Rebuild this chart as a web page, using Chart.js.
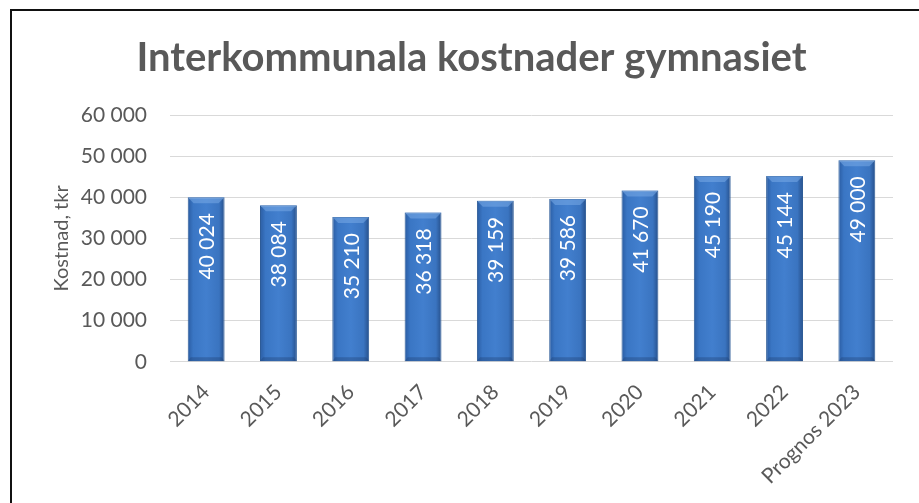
<!DOCTYPE html>
<html>
<head>
<meta charset="utf-8">
<script src="https://cdn.jsdelivr.net/npm/chart.js@4/dist/chart.umd.min.js"></script>
<style>
    html, body { margin: 0; padding: 0; background: #fff; }
    #ram {
        position: absolute; left: 10px; top: 9px;
        width: 907px; height: 492px;
        border-left: 2px solid #111; border-top: 2px solid #111;
    }
    canvas { display: block; }
</style>
</head>
<body>
<div id="ram"><canvas id="chartKostnad" width="907" height="492"></canvas></div>
<script>
const kategorier = ["2014", "2015", "2016", "2017", "2018", "2019", "2020", "2021", "2022", "Prognos 2023"];
const kostnader = [40024, 38084, 35210, 36318, 39159, 39586, 41670, 45190, 45144, 49000];
const yTicks = [0, 10000, 20000, 30000, 40000, 50000, 60000];

const FONT = "Lato, 'Liberation Sans', sans-serif";
const GRA = "#595959";

// "40 024" - mellanslag som tusentalsavgränsare
function formatera(v) {
    return String(v).replace(/\B(?=(\d{3})+(?!\d))/g, " ");
}

// Blå gradient över varje stapel
function stapelFarg(ctx) {
    const chart = ctx.chart;
    const x = chart.scales.x;
    if (!x || !chart.chartArea) return "#3b74bb";
    const mitt = x.getPixelForValue(ctx.dataIndex);
    const halv = (x.width / kategorier.length) * 0.51 / 2;
    const g = chart.ctx.createLinearGradient(mitt - halv, 0, mitt + halv, 0);
    g.addColorStop(0, "#2a5ca2");
    g.addColorStop(0.15, "#3a76c4");
    g.addColorStop(0.5, "#427fce");
    g.addColorStop(0.85, "#3a74c0");
    g.addColorStop(1, "#264f8a");
    return g;
}

// Fasad kant upptill och nedtill, som i Excel
const fasad = {
    id: "fasad",
    afterDatasetsDraw(chart) {
        const c = chart.ctx;
        chart.getDatasetMeta(0).data.forEach(function (bar) {
            const v = bar.x - bar.width / 2, h = bar.x + bar.width / 2;
            const t = bar.y, b = bar.base, d = 6;
            c.save();
            c.fillStyle = "rgba(120,170,230,0.55)";
            c.beginPath();
            c.moveTo(v, t); c.lineTo(h, t); c.lineTo(h - d, t + d); c.lineTo(v + d, t + d);
            c.closePath(); c.fill();
            c.fillStyle = "rgba(30,60,110,0.35)";
            c.beginPath();
            c.moveTo(v, b); c.lineTo(h, b); c.lineTo(h - 3, b - 4); c.lineTo(v + 3, b - 4);
            c.closePath(); c.fill();
            c.restore();
        });
    }
};

// Värdena skrivs lodrätt inne i staplarna
const etiketter = {
    id: "etiketter",
    afterDatasetsDraw(chart) {
        const c = chart.ctx;
        chart.getDatasetMeta(0).data.forEach(function (bar, i) {
            c.save();
            c.translate(bar.x, bar.y + 16);
            c.rotate(-Math.PI / 2);
            c.font = "21px " + FONT;
            c.fillStyle = "#ffffff";
            c.textAlign = "right";
            c.textBaseline = "middle";
            c.fillText(formatera(kostnader[i]), 0, 1);
            c.restore();
        });
    }
};

new Chart(document.getElementById("chartKostnad").getContext("2d"), {
    type: "bar",
    data: {
        labels: kategorier,
        datasets: [{
            data: kostnader,
            backgroundColor: stapelFarg,
            borderColor: "#2b5a96",
            borderWidth: 1,
            categoryPercentage: 1,
            barPercentage: 0.51
        }]
    },
    options: {
        responsive: false,
        animation: false,
        layout: { padding: { left: 38, right: 26, top: 0, bottom: 4 } },
        plugins: {
            legend: { display: false },
            tooltip: { enabled: false },
            title: {
                display: true,
                text: "Interkommunala kostnader gymnasiet",
                color: GRA,
                font: { family: FONT, size: 40, weight: "bold" },
                padding: { top: 23, bottom: 33 }
            }
        },
        scales: {
            x: {
                grid: { display: false },
                border: { display: false },
                ticks: {
                    color: GRA,
                    font: { family: FONT, size: 21 },
                    minRotation: 45,
                    maxRotation: 45,
                    autoSkip: false,
                    padding: 10
                }
            },
            y: {
                min: 0,
                max: 60000,
                afterBuildTicks: function (axis) {
                    axis.ticks = yTicks.map(function (v) { return { value: v }; });
                },
                afterFit: function (axis) { axis.width = 120; },
                grid: { color: "#d9d9d9", lineWidth: 1, drawTicks: false },
                border: { display: false },
                ticks: {
                    color: GRA,
                    font: { family: FONT, size: 21 },
                    padding: 23,
                    callback: function (v) { return formatera(v); }
                },
                title: {
                    display: true,
                    text: "Kostnad, tkr",
                    color: GRA,
                    font: { family: FONT, size: 20 },
                    padding: { top: 0, bottom: 6 }
                }
            }
        }
    },
    plugins: [fasad, etiketter]
});
</script>
</body>
</html>
